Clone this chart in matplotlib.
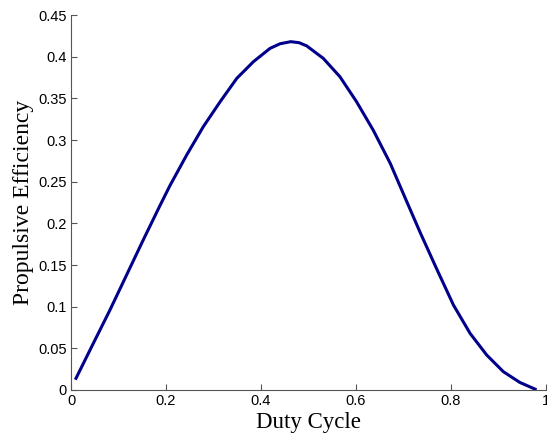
import matplotlib
matplotlib.use("Agg")
import matplotlib.pyplot as plt

duty_cycle = [0.0105, 0.047, 0.082, 0.117, 0.152, 0.187, 0.208, 0.2435, 0.2785, 0.314,
              0.349, 0.384, 0.419, 0.440, 0.4625, 0.480, 0.496, 0.531, 0.566, 0.601,
              0.636, 0.672, 0.703, 0.735, 0.770, 0.805, 0.840, 0.875, 0.910, 0.945, 0.977]
efficiency = [0.014, 0.056, 0.096, 0.138, 0.180, 0.221, 0.245, 0.282, 0.316, 0.346,
              0.374, 0.394, 0.410, 0.4155, 0.418, 0.4168, 0.413, 0.398, 0.376, 0.346,
              0.312, 0.272, 0.231, 0.189, 0.145, 0.102, 0.068, 0.042, 0.022, 0.009, 0.001]
xticks = [0, 0.2, 0.4, 0.6, 0.8, 1]
xtick_labels = ["0", "0.2", "0.4", "0.6", "0.8", "1"]
yticks = [0, 0.05, 0.1, 0.15, 0.2, 0.25, 0.3, 0.35, 0.4, 0.45]
ytick_labels = ["0", "0.05", "0.1", "0.15", "0.2", "0.25", "0.3", "0.35", "0.4", "0.45"]

fig = plt.figure(figsize=(5.47, 4.34), dpi=100)
ax = fig.add_axes([0.1298, 0.1014, 0.8685, 0.8640])
ax.plot(duty_cycle, efficiency, color="#00008B", lw=2.2, solid_joinstyle="round")
ax.set_xlim(0, 1)
ax.set_ylim(0, 0.45)
ax.set_xticks(xticks)
ax.set_xticklabels(xtick_labels, fontfamily="Liberation Sans", fontsize=10.5)
ax.set_yticks(yticks)
ax.set_yticklabels(ytick_labels, fontfamily="Liberation Sans", fontsize=10.5)
for s in ["top", "right"]:
    ax.spines[s].set_visible(False)
for s in ["left", "bottom"]:
    ax.spines[s].set_color("#555555")
    ax.spines[s].set_linewidth(0.8)
ax.tick_params(direction="in", length=4, color="#555555", width=0.8, pad=3)
ax.set_xlabel("Duty Cycle", fontfamily="Liberation Serif", fontsize=16.5, labelpad=3)
ax.set_ylabel("Propulsive Efficiency", fontfamily="Liberation Serif", fontsize=17, labelpad=3)
fig.savefig("out.png", dpi=100)
